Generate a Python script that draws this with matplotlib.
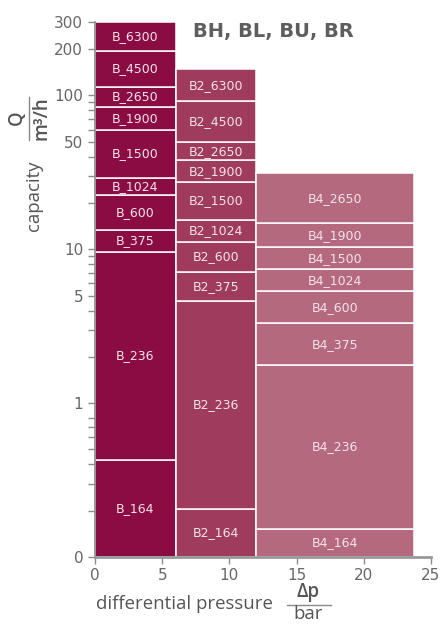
import matplotlib
matplotlib.use("Agg")
import matplotlib.pyplot as plt
from matplotlib.lines import Line2D
from matplotlib.ticker import FixedLocator, NullFormatter
import numpy as np

# ---- data ----
col_left = [0, 6, 12]
col_width = [6, 6, 11.7]
col_colors = ["#8A0C42", "#9F3B5C", "#B5697E"]

b_labels = ["B_164", "B_236", "B_375", "B_600", "B_1024", "B_1500",
            "B_1900", "B_2650", "B_4500", "B_6300"]
b_bounds = [0.1, 0.43, 9.6, 13.4, 22.5, 29.1, 59.8, 84.4, 114, 194, 300]

b2_labels = ["B2_164", "B2_236", "B2_375", "B2_600", "B2_1024", "B2_1500",
             "B2_1900", "B2_2650", "B2_4500", "B2_6300"]
b2_bounds = [0.1, 0.206, 4.62, 7.17, 11.2, 15.6, 27.2, 37.9, 49.6, 92.3, 147.6]

b4_labels = ["B4_164", "B4_236", "B4_375", "B4_600", "B4_1024", "B4_1500",
             "B4_1900", "B4_2650"]
b4_bounds = [0.1, 0.153, 1.76, 3.30, 5.34, 7.43, 10.3, 14.8, 31.2]

y_ticks = [0.1, 1, 5, 10, 50, 100, 200, 300]
y_tick_labels = ["0", "1", "5", "10", "50", "100", "200", "300"]
x_ticks = [0, 5, 10, 15, 20, 25]

title = "BH, BL, BU, BR"

# ---- figure ----
W, H = 441, 624
fig = plt.figure(figsize=(W / 100, H / 100), dpi=100)
ax = fig.add_axes([95 / W, (H - 557) / H, 336 / W, 535 / H])
ax.set_yscale("log")
ax.set_ylim(0.1, 300)
ax.set_xlim(0, 25)

columns = [(b_labels, b_bounds), (b2_labels, b2_bounds), (b4_labels, b4_bounds)]
for (labels, bounds), left, width, color in zip(columns, col_left, col_width, col_colors):
    lo = np.array(bounds[:-1])
    hi = np.array(bounds[1:])
    ax.bar([left] * len(lo), hi - lo, bottom=lo, width=width, align="edge",
           color=color, edgecolor="white", linewidth=1.1, zorder=2)
    for lab, a, b in zip(labels, lo, hi):
        ax.text(left + width / 2, np.sqrt(a * b), lab, ha="center", va="center",
                fontsize=9, color="#F3E3EA", family="DejaVu Sans", zorder=3)

grey = "#666666"
for s in ["top", "right"]:
    ax.spines[s].set_visible(False)
ax.spines["left"].set_color("#8a8a8a")
ax.spines["left"].set_linewidth(1.2)
ax.spines["bottom"].set_color("#999999")
ax.spines["bottom"].set_linewidth(2)

ax.yaxis.set_major_locator(FixedLocator(y_ticks))
ax.set_yticklabels(y_tick_labels)
ax.yaxis.set_minor_locator(FixedLocator(
    [0.2, 0.3, 0.4, 0.5, 0.6, 0.7, 0.8, 2, 3, 4, 6, 7, 8, 9, 20, 30, 40, 60, 70, 80, 90]))
ax.yaxis.set_minor_formatter(NullFormatter())
ax.set_xticks(x_ticks)
ax.tick_params(axis="both", which="both", colors="#8a8a8a", labelcolor=grey,
               labelsize=11, length=5, width=1)
ax.tick_params(axis="x", pad=3)
for lab in ax.get_xticklabels() + ax.get_yticklabels():
    lab.set_family("DejaVu Sans")

# title
fig.text(193 / W, 1 - 31 / H, title, ha="left", va="center", fontsize=14,
         fontweight="bold", color="#5e5e5e", family="DejaVu Sans")

# x label
lab_col = "#555555"
fig.text(96 / W, 1 - 604 / H, "differential pressure", ha="left", va="center",
         fontsize=13.4, color=lab_col, family="Open Sans")
fig.text(308 / W, 1 - 592 / H, "Δp", ha="center", va="center", fontsize=13.4,
         fontweight="semibold", color=lab_col, family="Open Sans")
fig.text(308 / W, 1 - 614 / H, "bar", ha="center", va="center", fontsize=13.4,
         color=lab_col, family="Open Sans")
fig.add_artist(Line2D([287 / W, 331 / W], [1 - 605 / H, 1 - 605 / H],
                      color="#888888", lw=1))

# y label
fig.text(34 / W, 1 - 196 / H, "capacity", ha="center", va="center", rotation=90,
         fontsize=13.4, color=lab_col, family="Open Sans")
fig.text(17 / W, 1 - 118 / H, "Q", ha="center", va="center", rotation=90,
         fontsize=13.4, fontweight="semibold", color=lab_col, family="Open Sans")
fig.text(42 / W, 1 - 118 / H, "m³/h", ha="center", va="center", rotation=90,
         fontsize=13.4, fontweight="semibold", color=lab_col, family="Open Sans")
fig.add_artist(Line2D([29 / W, 29 / W], [1 - 97 / H, 1 - 140 / H],
                      color="#888888", lw=1))

fig.savefig("out.png", dpi=100)
